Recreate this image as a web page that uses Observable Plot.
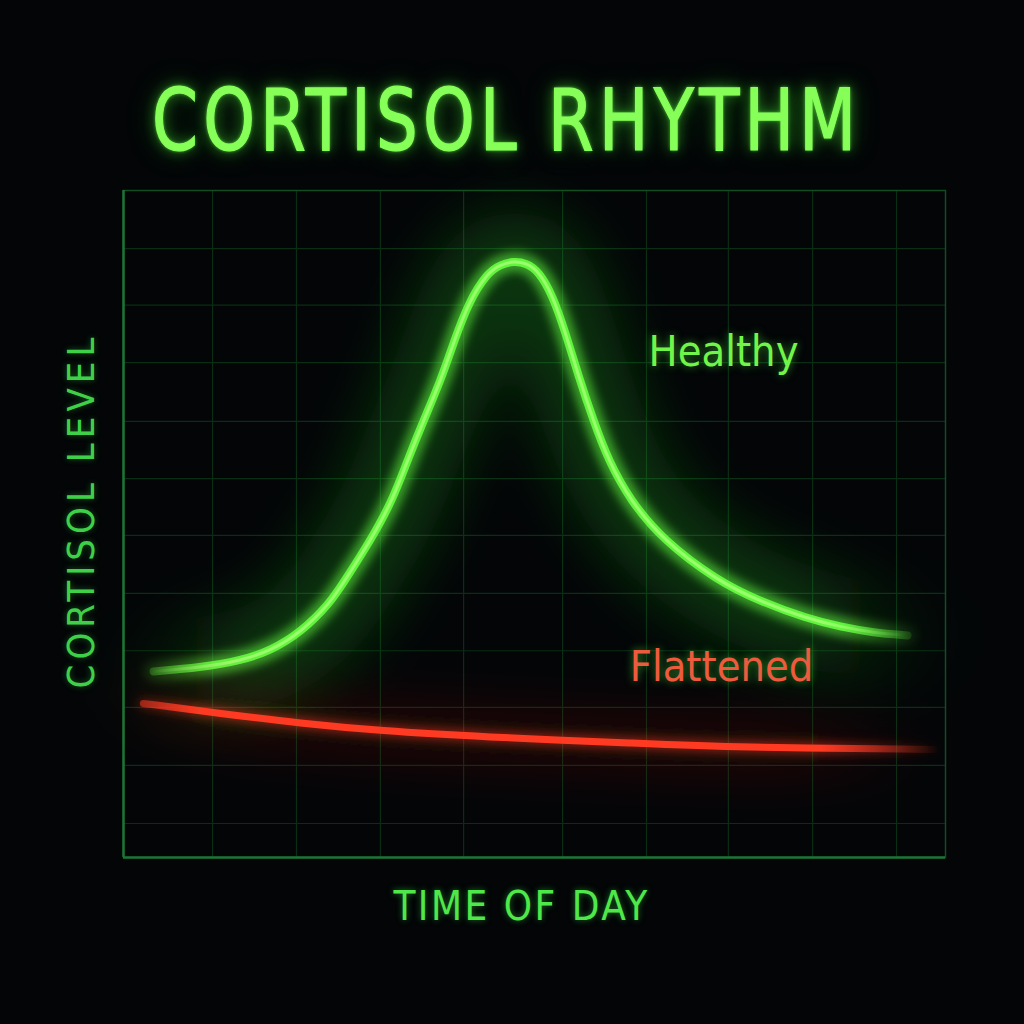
<!DOCTYPE html>
<html><head><meta charset="utf-8">
<script src="https://cdn.jsdelivr.net/npm/d3@7"></script>
<script src="https://cdn.jsdelivr.net/npm/@observablehq/plot@0.6"></script>
<style>
html,body{margin:0;padding:0;background:#030507;width:1024px;height:1024px;overflow:hidden;}
#title{position:relative;height:170px;}
#title span{position:absolute;left:152px;top:77px;font-family:"DejaVu Sans Condensed","DejaVu Sans",sans-serif;font-stretch:condensed;font-size:86px;line-height:1;color:#86ff58;letter-spacing:6.2px;transform:scaleX(0.85);transform-origin:0 0;white-space:nowrap;
-webkit-text-stroke:1.2px #86ff58;
text-shadow:0 0 4px rgba(120,255,80,0.8),0 0 14px rgba(70,230,50,0.6),0 0 30px rgba(40,180,30,0.45);}
#chart svg{display:block;}
</style></head><body>
<div id="title"><span>CORTISOL RHYTHM</span></div>
<div id="chart"></div>
<script>
// Healthy curve (hour of day, relative level 0-100)
const hoursHealthy = [0.88, 2.25, 3.42, 4.29, 5.17, 6.04, 6.42, 7.21, 7.85, 8.29, 8.76, 9.26, 9.66, 10.07, 10.63, 11.01, 11.39, 11.77, 12.12, 12.53, 12.91, 13.29, 13.72, 14.16, 14.80, 15.77, 17.34, 18.54, 19.97, 20.93, 21.90, 22.89];
const levelHealthy = [27.9, 28.5, 29.5, 31.0, 33.7, 38.2, 41.2, 47.5, 53.5, 59.5, 65.5, 71.5, 77.5, 83.2, 87.7, 88.9, 89.4, 89.1, 87.9, 84.3, 78.6, 72.1, 65.5, 59.5, 53.5, 47.5, 41.5, 38.5, 35.8, 34.6, 33.7, 33.3];
// Flattened curve
const hoursFlat = [0.58, 2.83, 5.17, 7.50, 10.42, 15.09, 17.81, 23.65];
const levelFlat = [23.1, 21.6, 20.1, 19.0, 18.1, 17.1, 16.5, 16.2];
// grid lines
const gridX = [2.6, 5.05, 7.5, 9.93, 12.82, 15.27, 17.66, 20.12, 22.57];
const gridY = [5.1, 13.8, 22.5, 31.0, 39.6, 48.3, 56.8, 65.4, 74.2, 82.8, 91.3];
// series labels
const seriesLabels = ["Healthy", "Flattened"];
const labelHours = [17.52, 17.46];
const labelLevels = [75.7, 28.6];
const xAxisLabel = "TIME OF DAY";
const yAxisLabel = "CORTISOL LEVEL";

const healthy = hoursHealthy.map((h, i) => ({h, v: levelHealthy[i]}));
const flat = hoursFlat.map((h, i) => ({h, v: levelFlat[i]}));
const labels = seriesLabels.map((t, i) => ({t, h: labelHours[i], v: labelLevels[i]}));

const FONT = "'DejaVu Sans Condensed', 'DejaVu Sans', sans-serif";
const curve = "basis";

const chart = Plot.plot({
  width: 1024, height: 854,
  marginLeft: 123, marginRight: 79, marginTop: 20, marginBottom: 167,
  style: {background: "transparent", overflow: "visible"},
  x: {domain: [0, 24], axis: null},
  y: {domain: [0, 100], axis: null},
  marks: [
    Plot.ruleX(gridX, {stroke: "#0a2e15", strokeWidth: 1.2}),
    Plot.ruleY(gridY, {stroke: "#0a2e15", strokeWidth: 1.2}),
    Plot.frame({stroke: "#124d24", strokeWidth: 1.5}),
    Plot.ruleX([0], {stroke: "#1c7436", strokeWidth: 2.5}),
    Plot.ruleY([0], {stroke: "#1c7436", strokeWidth: 2.5}),
    // healthy
    Plot.line(healthy, {x: "h", y: "v", curve, stroke: "url(#gGreenHalo)", strokeWidth: 100, strokeOpacity: 0.24}),
    Plot.line(healthy, {x: "h", y: "v", curve, stroke: "url(#gGreen)", strokeWidth: 20, strokeOpacity: 0.55}),
    Plot.line(healthy, {x: "h", y: "v", curve, stroke: "url(#gGreen)", strokeWidth: 8}),
    Plot.line(healthy, {x: "h", y: "v", curve, stroke: "url(#gGreenCore)", strokeWidth: 3}),
    // flattened
    Plot.line(flat, {x: "h", y: "v", curve, stroke: "url(#gRedHalo)", strokeWidth: 44, strokeOpacity: 0.2}),
    Plot.line(flat, {x: "h", y: "v", curve, stroke: "url(#gRed)", strokeWidth: 12, strokeOpacity: 0.45}),
    Plot.line(flat, {x: "h", y: "v", curve, stroke: "url(#gRed)", strokeWidth: 7}),
    // labels
    Plot.text(labels, {x: "h", y: "v", text: "t", fontSize: 43, fontFamily: FONT,
      fill: (d, i) => i === 0 ? "#72f54a" : "#ee5a3e"}),
    Plot.text([xAxisLabel], {text: d => d, frameAnchor: "bottom", textAnchor: "middle", lineAnchor: "middle", dx: -13, dy: 50, fontSize: 40, fontFamily: FONT, fill: "#4fe84a"}),
    Plot.text([yAxisLabel], {text: d => d, frameAnchor: "left", textAnchor: "middle", lineAnchor: "middle", rotate: -90, dx: -42, dy: -13.5, fontSize: 38, fontFamily: FONT, fill: "#3fd04a"})
  ]
});

const svg = d3.select(chart);
const defs = svg.insert("defs", ":first-child");
function grad(id, color, stops) {
  const g = defs.append("linearGradient").attr("id", id).attr("gradientUnits", "userSpaceOnUse")
    .attr("x1", 123).attr("x2", 945).attr("y1", 0).attr("y2", 0);
  stops.forEach(([px, op]) => g.append("stop").attr("offset", (px - 123) / 822).attr("stop-color", color).attr("stop-opacity", op));
}
grad("gGreen", "#62f53e", [[150, 0.25], [215, 1], [840, 1], [910, 0.15]]);
grad("gGreenHalo", "#22c820", [[150, 0.1], [250, 1], [800, 1], [910, 0.1]]);
grad("gGreenCore", "#a8ff78", [[150, 0.0], [230, 0.8], [820, 0.8], [905, 0.0]]);
grad("gRed", "#ff3a22", [[140, 0.5], [200, 1], [820, 1], [940, 0.0]]);
grad("gRedHalo", "#c81e10", [[140, 0.4], [220, 1], [780, 1], [930, 0.0]]);
function blur(id, sd) {
  defs.append("filter").attr("id", id).attr("filterUnits", "userSpaceOnUse")
    .attr("x", 0).attr("y", 0).attr("width", 1024).attr("height", 854)
    .append("feGaussianBlur").attr("stdDeviation", sd);
}
blur("bBig", 28); blur("bMid", 5);
const lines = svg.selectAll('g[aria-label="line"]').nodes();
d3.select(lines[0]).attr("filter", "url(#bBig)");
d3.select(lines[1]).attr("filter", "url(#bMid)");
d3.select(lines[4]).attr("filter", "url(#bBig)");
d3.select(lines[5]).attr("filter", "url(#bMid)");
const texts = svg.selectAll('g[aria-label="text"]').nodes();
d3.select(texts[0]).style("text-shadow", "0 0 8px rgba(80,230,60,0.6)");
d3.select(texts[1]).style("letter-spacing", "2.5px").style("text-shadow", "0 0 6px rgba(60,220,60,0.5)");
d3.select(texts[2]).style("letter-spacing", "5px").style("text-shadow", "0 0 6px rgba(60,220,60,0.4)");
document.getElementById("chart").appendChild(chart);
</script>
</body></html>
